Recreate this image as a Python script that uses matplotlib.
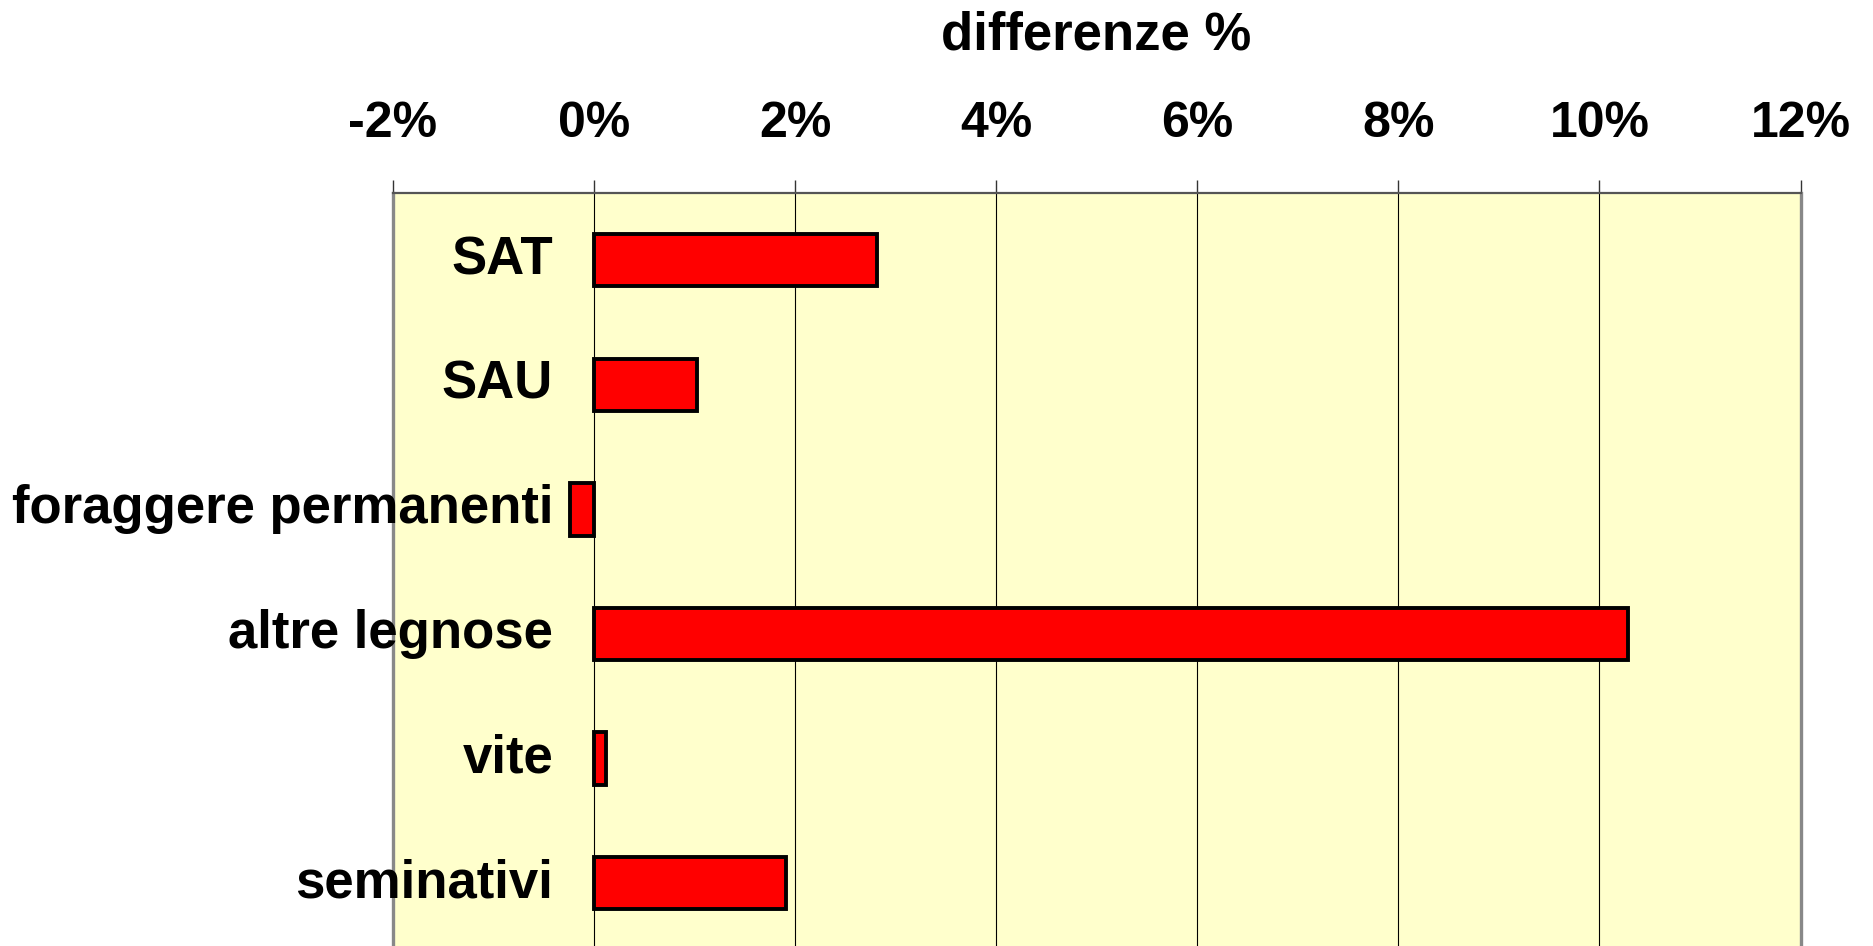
import matplotlib.pyplot as plt
import matplotlib.transforms as mtransforms
from matplotlib.ticker import FuncFormatter

plt.rcParams['font.family'] = ['Liberation Sans', 'DejaVu Sans']
plt.rcParams['font.weight'] = 'bold'

# percentage differences per crop category (top to bottom)
categories = ['SAT', 'SAU', 'foraggere permanenti', 'altre legnose', 'vite', 'seminativi']
differences = [2.81, 1.02, -0.24, 10.28, 0.12, 1.91]
x_ticks = [-2, 0, 2, 4, 6, 8, 10, 12]

fig = plt.figure(figsize=(18.74, 9.46), dpi=100)
ax = fig.add_axes([0.2097, -0.0127, 0.7511, 0.8087])
ax.set_facecolor('#FFFFCC')

pos = list(range(len(categories)))
ax.barh(pos, differences, height=0.42, color='#FF0000', edgecolor='black',
        linewidth=2.8, zorder=3)

ax.set_xlim(-2, 12)
ax.set_ylim(5.6, -0.54)
ax.set_xticks(x_ticks)
ax.xaxis.set_major_formatter(FuncFormatter(lambda v, p: f'{v:.0f}%'))
ax.xaxis.tick_top()
ax.tick_params(axis='x', length=9.4, width=1, color='#333333', pad=24,
               labelsize=36)
ax.set_yticks([])
ax.grid(axis='x', color='black', linewidth=0.8, zorder=1)

for side in ['left', 'right']:
    ax.spines[side].set_color('#888888')
    ax.spines[side].set_linewidth(2.4)
ax.spines['top'].set_color('#555555')
ax.spines['top'].set_linewidth(1.6)
ax.spines['bottom'].set_visible(False)

# category labels sit just left of the zero line
lbl_tr = mtransforms.offset_copy(ax.transData, fig=fig, x=-41, y=0, units='dots')
for i, name in enumerate(categories):
    ax.text(0, i, name, transform=lbl_tr, ha='right', va='center',
            fontsize=38, fontweight='bold', clip_on=False, zorder=4)

fig.text(0.585, 0.963, 'differenze %', ha='center', va='center',
         fontsize=38, fontweight='bold')

fig.savefig('out.png', dpi=100)
